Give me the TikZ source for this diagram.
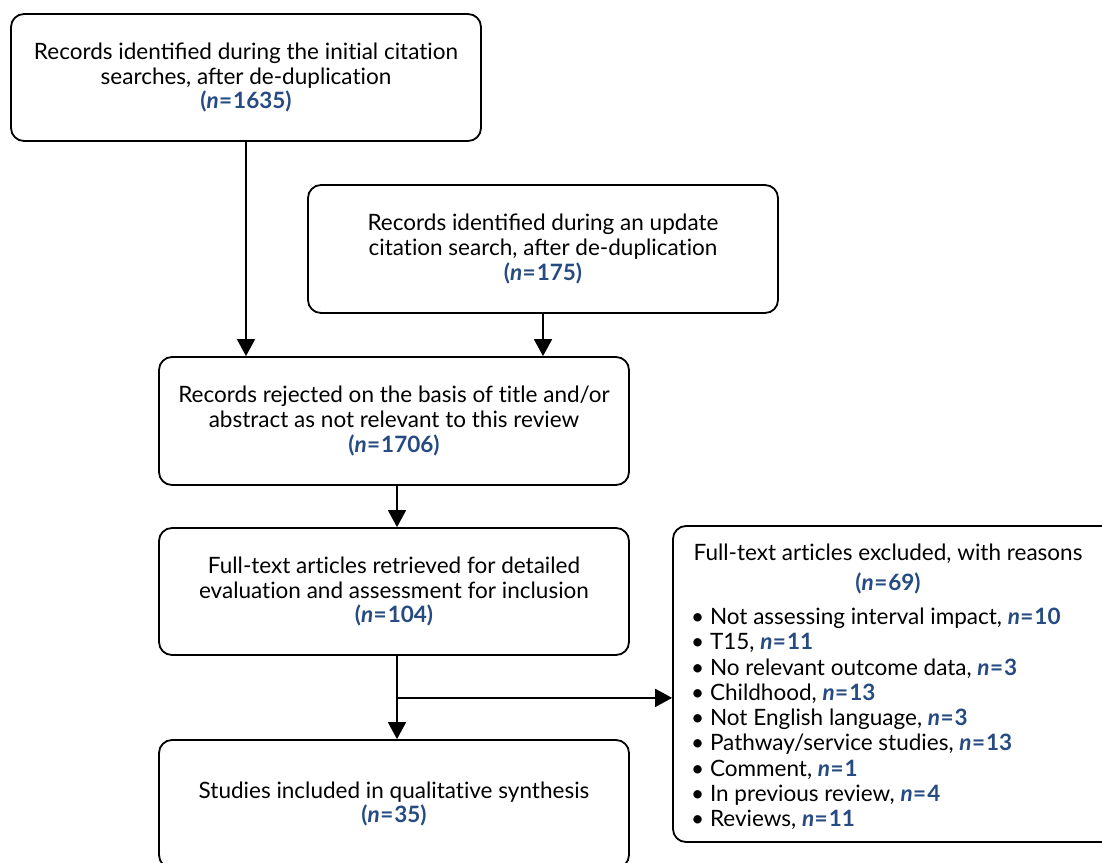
\documentclass[tikz,border=0pt]{standalone}
\usepackage{fontspec}
\setmainfont{Lato}
\usetikzlibrary{arrows.meta,calc}
\definecolor{nblue}{RGB}{38,74,130}
\newcommand{\ncount}[1]{\textcolor{nblue}{\textbf{(\textit{n}\kern0.5pt=\kern1pt#1)}}}
\newcommand{\nitem}[1]{\textcolor{nblue}{\textbf{\textit{n}\kern0.5pt=\kern1pt#1}}}
% keeps t and i apart (no "ti" ligature)
\newcommand{\nl}{\kern0pt}
\begin{document}
\begin{tikzpicture}[x=1bp,y=-1bp,
  flowbox/.style={draw,line width=1.8bp,rounded corners=13bp,
    minimum width=470bp,align=center,inner sep=0pt,
    font=\fontsize{22.6}{25}\selectfont},
  arr/.style={line width=1.8bp,-{Triangle[width=18bp,length=17bp]}}]
\useasboundingbox (0,0) rectangle (1102,863);
\clip (0,0) rectangle (1102,863);
% main column of boxes
\node[flowbox,minimum height=127bp] (b1) at (246,77.5)
  {Records identified during the init\nl ial citat\nl ion\\ searches, after de-duplicat\nl ion\\ \ncount{1635}};
\node[flowbox,minimum height=128bp] (b2) at (543,249)
  {Records identified during an update\\ citat\nl ion search, after de-duplicat\nl ion\\ \ncount{175}};
\node[flowbox,minimum height=128bp] (b3) at (394,421)
  {Records rejected on the basis of t\nl itle and/or\\ abstract as not relevant to this review\\ \ncount{1706}};
\node[flowbox,minimum height=127bp] (b4) at (394,591.5)
  {Full-text art\nl icles retrieved for detailed\\ evaluat\nl ion and assessment for inclusion\\ \ncount{104}};
\node[flowbox,minimum height=128bp] (b6) at (394,804)
  {Studies included in qualitat\nl ive synthesis\\ \ncount{35}};
% exclusion box, running past the right edge
\node[draw,line width=1.8bp,rounded corners=13bp,minimum width=450bp,
  minimum height=316bp,inner sep=0pt] (b5) at (898,684) {};
\node[font=\fontsize{22.6}{30}\selectfont,align=center,inner sep=0pt] (b5t) at (888,569)
  {Full-text art\nl icles excluded, with reasons\\ \ncount{69}};
\node[font=\fontsize{22.6}{25.3}\selectfont,align=left,anchor=north west,inner sep=0pt] (b5l) at (691,608)
  {\textbullet\ Not assessing interval impact, \nitem{10}\\
   \textbullet\ T15, \nitem{11}\\
   \textbullet\ No relevant outcome data, \nitem{3}\\
   \textbullet\ Childhood, \nitem{13}\\
   \textbullet\ Not English language, \nitem{3}\\
   \textbullet\ Pathway/service studies, \nitem{13}\\
   \textbullet\ Comment, \nitem{1}\\
   \textbullet\ In previous review, \nitem{4}\\
   \textbullet\ Reviews, \nitem{11}};
% connectors
\draw[arr] (b1.south) -- (b1.south |- b3.north);
\draw[arr] (b2.south) -- (b2.south |- b3.north);
\draw[arr] ([xshift=3bp]b3.south) -- ([xshift=3bp]b4.north);
\draw[arr] ([xshift=3bp]b4.south) -- ([xshift=3bp]b6.north);
\coordinate (br) at ($([xshift=3bp]b4.south)+(0,42)$);
\draw[arr] (br) -- (br -| b5.west);
\end{tikzpicture}
\end{document}
